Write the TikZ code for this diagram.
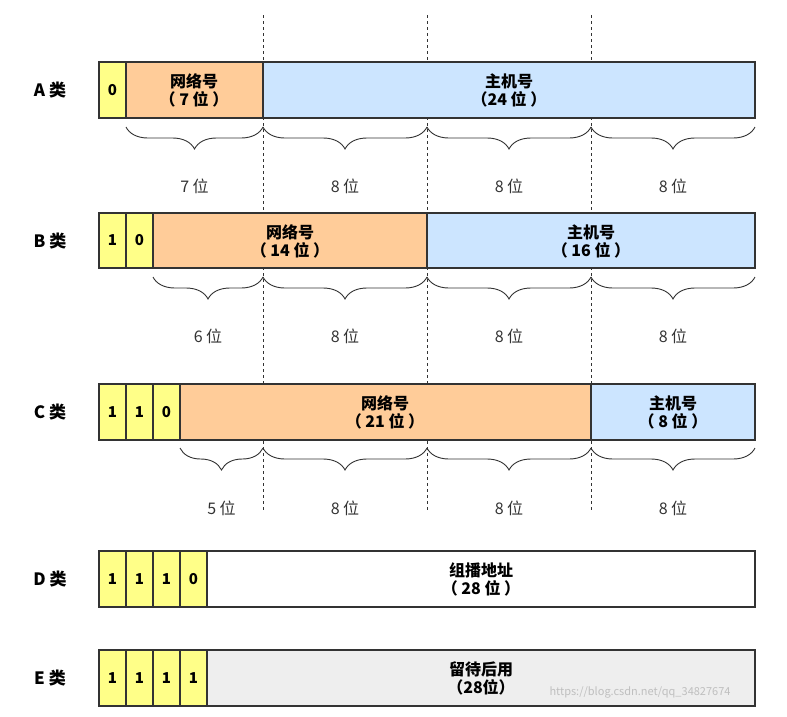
\documentclass[tikz,border=0pt]{standalone}
\usepackage{fontspec}
\setmainfont{Noto Sans CJK SC}
\usetikzlibrary{decorations.pathreplacing}
\definecolor{cy}{HTML}{FFFF88}
\definecolor{co}{HTML}{FFCC99}
\definecolor{cb}{HTML}{CCE5FF}
\definecolor{cg}{HTML}{EEEEEE}
\definecolor{ln}{HTML}{333333}
\begin{document}
\begin{tikzpicture}[x=1pt,y=-1pt,
  cell/.style={draw=ln,line width=1.6pt},
  lbl/.style={font=\fontsize{17}{20}\selectfont\bfseries},
  bt/.style={font=\fontsize{15}{17}\selectfont\bfseries},
  ft/.style={font=\fontsize{16}{18}\selectfont\bfseries,align=center},
  br/.style={decorate,decoration={brace,mirror,amplitude=22pt},draw=ln,line width=0.9pt},
  bl/.style={font=\fontsize{16}{18}\selectfont,text=ln}]
\useasboundingbox (0,0) rectangle (787,716);
% dashed lines
\foreach \x/\n in {263/d1,427/d2,591/d3}{
  \coordinate (\n t) at (\x,15); \coordinate (\n b) at (\x,512);
  \draw[dashed,ln,line width=0.9pt] (\n t) -- (\n b);}
\newcommand{\bitcells}[3]{%
  \foreach \b [count=\i] in {#3}{
    \pgfmathsetmacro{\xa}{99+27*(\i-1)}\pgfmathsetmacro{\xb}{99+27*\i}
    \draw[cell,fill=cy] (\xa,#1) rectangle (\xb,#2);
    \node[bt] at ({(\xa+\xb)/2},{(#1+#2)/2}) {\b};}}
% A
\node[lbl] (la) at (50,90) {A 类};
\draw[cell,fill=co] (126,62) rectangle (263,118);
\draw[cell,fill=cb] (263,62) rectangle (755,118);
\bitcells{62}{118}{0}
\node[ft] (an) at (194,90) {网络号\\（ 7 位 ）};
\node[ft] (ah) at (509,90) {主机号\\（24 位 ）};
% B
\node[lbl] (lb) at (50,241) {B 类};
\draw[cell,fill=co] (153,213) rectangle (427,268);
\draw[cell,fill=cb] (427,213) rectangle (755,268);
\bitcells{213}{268}{1,0}
\node[ft] (bn) at (290,241) {网络号\\（ 14 位 ）};
\node[ft] (bh) at (591,241) {主机号\\（ 16 位 ）};
% C
\node[lbl] (lc) at (50,412) {C 类};
\draw[cell,fill=co] (180,384) rectangle (591,440);
\draw[cell,fill=cb] (591,384) rectangle (755,440);
\bitcells{384}{440}{1,1,0}
\node[ft] (cn) at (385,412) {网络号\\（ 21 位 ）};
\node[ft] (ch) at (673,412) {主机号\\（ 8 位 ）};
% D
\node[lbl] (ld) at (50,579) {D 类};
\draw[cell,fill=white] (207,551) rectangle (755,607);
\bitcells{551}{607}{1,1,1,0}
\node[ft] (dn) at (481,579) {组播地址\\（ 28 位 ）};
% E
\node[lbl] (le) at (50,678) {E 类};
\draw[cell,fill=cg] (207,650) rectangle (755,706);
\bitcells{650}{706}{1,1,1,1}
\node[ft] (en) at (481,678) {留待后用\\（28位）};
\node[font=\fontsize{11}{12}\selectfont,text=black!25] (wm) at (640,692) {https://blog.csdn.net/qq\_34827674};
% braces
\newcommand{\braces}[4]{%
  \draw[br] (#2,#1) -- (263,#1); \node[bl] at ({(#2+263)/2},#3) {#4 位};
  \draw[br] (263,#1) -- (427,#1); \node[bl] at (345,#3) {8 位};
  \draw[br] (427,#1) -- (591,#1); \node[bl] at (509,#3) {8 位};
  \draw[br] (591,#1) -- (755,#1); \node[bl] at (673,#3) {8 位};}
\braces{127}{126}{186}{7}
\braces{277}{153}{336}{6}
\braces{448}{180}{508}{5}
\end{tikzpicture}
\end{document}
